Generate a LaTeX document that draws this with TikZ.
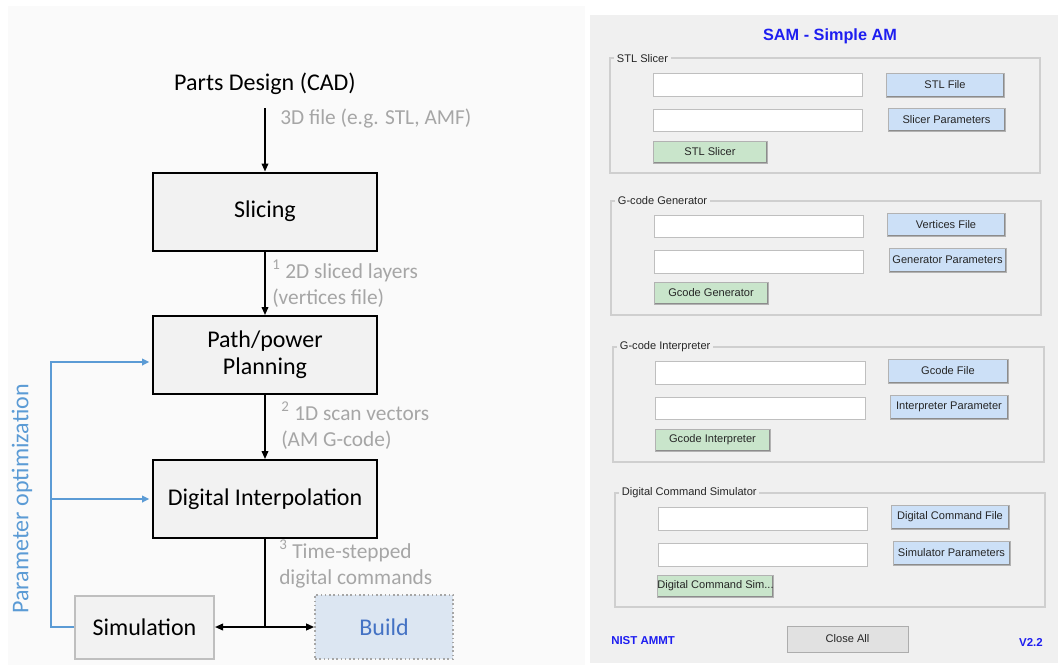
\documentclass[tikz,border=0pt]{standalone}
\usepackage{fontspec}
\setmainfont{Carlito}
\newfontfamily\guifont{Liberation Sans}
\usetikzlibrary{arrows.meta}
\definecolor{boxfill}{HTML}{F2F2F2}
\definecolor{labgray}{HTML}{A6A6A6}
\definecolor{fbblue}{HTML}{5B9BD5}
\definecolor{buildblue}{HTML}{4472C4}
\definecolor{buildfill}{HTML}{DCE6F2}
\definecolor{panelbg}{HTML}{F0F0F0}
\definecolor{btnblue}{HTML}{CCE0F7}
\definecolor{btngreen}{HTML}{C9E5CB}
\definecolor{btngray}{HTML}{E1E1E1}
\definecolor{guiblue}{RGB}{30,30,240}
\definecolor{framegray}{HTML}{CFCFCF}
\definecolor{leftbg}{HTML}{FAFAFA}
\newcommand\gitem[7]{\node[#6, minimum width={(#4-#2)*0.75pt}, minimum height={(#5-#3)*0.75pt}] (#1) at ({(#2+#4)/2},{(#3+#5)/2}) {#7};}
\begin{document}
\begin{tikzpicture}[x=0.75pt,y=-0.75pt,
  stage/.style={draw=black, line width=1.5pt, fill=boxfill, minimum width=168pt, minimum height=58.5pt, inner sep=0pt, align=center, font=\fontsize{18}{20}\selectfont},
  arr/.style={-{Triangle[length=6pt,width=5pt]}, line width=1.2pt},
  plainline/.style={line width=1.2pt},
  barr/.style={-{Triangle[length=5.5pt,width=5pt]}, line width=1.4pt, draw=fbblue, shorten >=2pt},
  lab/.style={text=labgray, font=\fontsize{16}{19.5}\selectfont, inner sep=0pt, align=left},
  guitext/.style={font=\guifont\fontsize{8.3}{10}\selectfont, text=black!85},
  gframe/.style={draw=framegray, line width=0.8pt},
  glabel/.style={guitext, fill=panelbg, inner sep=2pt},
  field/.style={draw=black!25, line width=0.7pt, fill=white},
  btn/.style={guitext, draw=black!30, line width=0.6pt, inner sep=1pt,
    path picture={\draw[line width=2pt, draw=black!45] (path picture bounding box.south west) -- (path picture bounding box.south east) -- (path picture bounding box.north east);}},
  bluebtn/.style={btn, fill=btnblue},
  greenbtn/.style={btn, fill=btngreen}
]
\useasboundingbox (0,0) rectangle (1058,665);
\fill[white] (0,0) rectangle (1058,665);
\fill[leftbg] (8,6) rectangle (585,665);
\fill[panelbg] (590,15) rectangle (1058,663);

% ---------- left flow ----------
\node[inner sep=0pt, font=\fontsize{18}{20}\selectfont] (parts) at (265,84) {Parts Design (CAD)};
\node[stage] (slice) at (265,211.5) {Slicing};
\node[stage] (path) at (265,355) {Path/power\\Planning};
\node[stage] (dig) at (265,499) {Digital Interpolation};
\node[draw=black!25, line width=1.5pt, fill=boxfill, minimum width=104.25pt, minimum height=47.25pt, font=\fontsize{18}{20}\selectfont] (sim) at (144.5,627) {Simulation};
\node[draw=black!35, dotted, line width=1.2pt, fill=buildfill, minimum width=103.5pt, minimum height=48pt, text=buildblue, font=\fontsize{18}{20}\selectfont] (build) at (384,627) {Build};

\coordinate (a0) at (265,108);
\draw[arr] (a0) -- (slice.north);
\draw[arr] (slice.south) -- (path.north);
\draw[arr] (path.south) -- (dig.north);
\coordinate (split) at (265,627);
\draw[plainline] (dig.south) -- (split);
\draw[arr] (split) -- (sim.east);
\draw[arr] (split) -- (build.west);

\node[lab, anchor=west] (l0) at (280,119) {3D file (e.g. STL, AMF)};
\node[lab, anchor=west] (l1) at (272,283.5) {\textsuperscript{1} 2D sliced layers\\(vertices file)};
\node[lab, anchor=west] (l2) at (281,425.5) {\textsuperscript{2} 1D scan vectors\\(AM G-code)};
\node[lab, anchor=west] (l3) at (279,564) {\textsuperscript{3} Time-stepped\\digital commands};

\coordinate (fbbot) at (51,627);
\coordinate (fbtop) at (51,362);
\coordinate (fbmid) at (51,499);
\draw[barr] (sim.west) -- (fbbot) -- (fbtop) -- (fbtop -| path.west);
\draw[barr] (fbmid) -- (dig.west);
\node[rotate=90, inner sep=0pt, text=fbblue, font=\fontsize{18}{20}\selectfont] (popt) at (22,499) {Parameter optimization};

% ---------- right GUI ----------
\node[font=\guifont\bfseries\fontsize{12.2}{14}\selectfont, text=guiblue, inner sep=0pt] (title) at (830,36) {SAM - Simple AM};

\gitem{g1}{610}{58}{1040}{173}{gframe}{}
\node[glabel, anchor=west] (g1l) at (614,59) {STL Slicer};
\gitem{f1a}{653}{73}{862}{96}{field}{}
\gitem{f1b}{653}{109}{862}{131}{field}{}
\gitem{b1a}{886}{73}{1004}{97}{bluebtn}{STL File}
\gitem{b1b}{888}{108}{1005}{131}{bluebtn}{Slicer Parameters}
\gitem{b1c}{653}{141}{767}{163}{greenbtn}{STL Slicer}

\gitem{g2}{611}{201}{1041}{315}{gframe}{}
\node[glabel, anchor=west] (g2l) at (615,201) {G-code Generator};
\gitem{f2a}{654}{215}{863}{237}{field}{}
\gitem{f2b}{654}{250}{863}{273}{field}{}
\gitem{b2a}{887}{213}{1005}{236}{bluebtn}{Vertices File}
\gitem{b2b}{889}{248}{1006}{272}{bluebtn}{Generator Parameters}
\gitem{b2c}{654}{282}{768}{304}{greenbtn}{Gcode Generator}

\gitem{g3}{613}{347}{1044}{462}{gframe}{}
\node[glabel, anchor=west] (g3l) at (617,347) {G-code Interpreter};
\gitem{f3a}{655}{361}{865}{384}{field}{}
\gitem{f3b}{655}{397}{865}{419}{field}{}
\gitem{b3a}{888}{359}{1008}{383}{bluebtn}{Gcode File}
\gitem{b3b}{890}{395}{1008}{419}{bluebtn}{Interpreter Parameter}
\gitem{b3c}{655}{429}{770}{451}{greenbtn}{Gcode Interpreter}

\gitem{g4}{615}{493}{1045}{607}{gframe}{}
\node[glabel, anchor=west] (g4l) at (619,493) {Digital Command Simulator};
\gitem{f4a}{658}{507}{867}{530}{field}{}
\gitem{f4b}{658}{543}{867}{566}{field}{}
\gitem{b4a}{891}{505}{1009}{529}{bluebtn}{Digital Command File}
\gitem{b4b}{893}{541}{1010}{565}{bluebtn}{Simulator Parameters}
\gitem{b4c}{658}{575}{773}{597}{greenbtn,inner sep=0pt}{Digital Command Sim...}

\gitem{close}{787}{626}{908}{652}{guitext,draw=black!32,line width=0.7pt,fill=btngray}{Close All}
\node[anchor=west, inner sep=0pt, text=guiblue, font=\guifont\bfseries\fontsize{8.6}{10}\selectfont] (nist) at (611,641) {NIST AMMT};
\node[anchor=east, inner sep=0pt, text=guiblue, font=\guifont\bfseries\fontsize{8.6}{10}\selectfont] (ver) at (1043,642) {V2.2};
\end{tikzpicture}
\end{document}
